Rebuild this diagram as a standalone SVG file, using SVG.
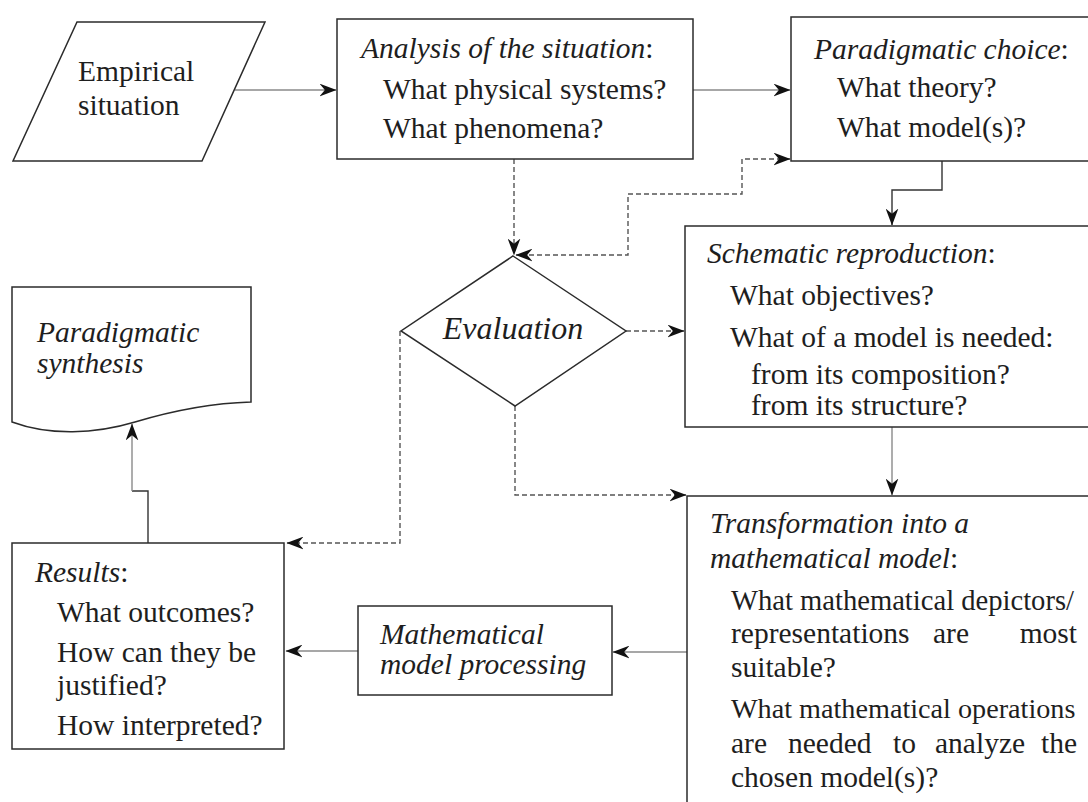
<svg xmlns="http://www.w3.org/2000/svg" width="1088" height="802" viewBox="0 0 1088 802" font-family="'Liberation Serif', 'Times New Roman', serif">
  <defs>
    <style>
      .box { fill: #fff; stroke: #2b2b2b; stroke-width: 1.5; }
      .t { font-size: 29.5px; fill: #1e1e1e; }
      .i { font-style: italic; }
      .line { fill: none; stroke: #8a8a8a; stroke-width: 1.4; }
      .dark { fill: none; stroke: #333; stroke-width: 1.4; }
      .dash { fill: none; stroke: #555; stroke-width: 1.4; stroke-dasharray: 5 3; }
    </style>
    <marker id="arr" viewBox="0 0 16 12" refX="15.5" refY="6" markerWidth="17" markerHeight="13" orient="auto-start-reverse" markerUnits="userSpaceOnUse">
      <path d="M0,0 L16,6 L0,12 L5,6 Z" fill="#111"/>
    </marker>
  </defs>

  <rect width="1088" height="802" fill="#fff"/>

  <!-- connectors -->
  <g id="connectors">
    <path class="line" d="M235,90 H336" marker-end="url(#arr)"/>
    <path class="line" d="M693,90 H790" marker-end="url(#arr)"/>
    <path class="dark" d="M942,161 V190 H892 V225" marker-end="url(#arr)"/>
    <path class="line" d="M892,427 V495" marker-end="url(#arr)"/>
    <path class="line" d="M687,652 H613" marker-end="url(#arr)"/>
    <path class="line" d="M358,651 H286" marker-end="url(#arr)"/>
    <path class="dark" d="M148,543 V491 H132"/>
    <path class="line" d="M132,491 V424" marker-end="url(#arr)"/>
    <path class="dash" d="M514,159 V255" marker-end="url(#arr)"/>
    <path class="dash" d="M790,159 H742 V194 H628 V255 H516" marker-start="url(#arr)" marker-end="url(#arr)"/>
    <path class="dash" d="M626,331 H684" marker-end="url(#arr)"/>
    <path class="dash" d="M515,406 V495 H686" marker-end="url(#arr)"/>
    <path class="dash" d="M400,331 V543 H287" marker-end="url(#arr)"/>
  </g>

  <!-- Empirical situation (input) -->
  <g id="empirical">
    <polygon class="box" points="77,22 265,22 202,161 13,161"/>
    <text class="t" x="78" y="81">Empirical</text>
    <text class="t" x="78" y="115">situation</text>
  </g>

  <!-- Analysis of the situation -->
  <g id="analysis">
    <rect class="box" x="337" y="19" width="356" height="140"/>
    <text class="t" x="361" y="58"><tspan class="i">Analysis of the situation</tspan>:</text>
    <text class="t" x="383" y="99">What physical systems?</text>
    <text class="t" x="383" y="138">What phenomena?</text>
  </g>

  <!-- Paradigmatic choice -->
  <g id="paradigmatic-choice">
    <rect class="box" x="791" y="17" width="310" height="144"/>
    <text class="t" x="814" y="59"><tspan class="i">Paradigmatic choice</tspan>:</text>
    <text class="t" x="837" y="97">What theory?</text>
    <text class="t" x="837" y="137">What model(s)?</text>
  </g>

  <!-- Evaluation (decision) -->
  <g id="evaluation">
    <polygon class="box" points="513,256 626,331 515,406 401,331"/>
    <text class="t i" x="513" y="339" text-anchor="middle" style="font-size:32px">Evaluation</text>
  </g>

  <!-- Schematic reproduction -->
  <g id="schematic">
    <rect class="box" x="685" y="226" width="416" height="201"/>
    <text class="t" x="707" y="263"><tspan class="i">Schematic reproduction</tspan>:</text>
    <text class="t" x="730" y="305">What objectives?</text>
    <text class="t" x="730" y="347">What of a model is needed:</text>
    <text class="t" x="751" y="384">from its composition?</text>
    <text class="t" x="751" y="415">from its structure?</text>
  </g>

  <!-- Paradigmatic synthesis (document) -->
  <g id="synthesis">
    <path class="box" d="M12,287 H251 V402 C215,403 175,410 135,422 C95,434 50,436 12,422 Z"/>
    <text class="t i" x="37" y="342">Paradigmatic</text>
    <text class="t i" x="37" y="373">synthesis</text>
  </g>

  <!-- Transformation into a mathematical model -->
  <g id="transformation">
    <rect class="box" x="687" y="496" width="414" height="330"/>
    <text class="t i" x="710" y="533">Transformation into a</text>
    <text class="t" x="710" y="568"><tspan class="i">mathematical model</tspan>:</text>
    <text class="t" x="731" y="610" style="font-size:28.6px">What mathematical depictors/</text>
    <text class="t" x="731" y="643">representations</text>
    <text class="t" x="933" y="643">are</text>
    <text class="t" x="1077" y="643" text-anchor="end">most</text>
    <text class="t" x="731" y="677">suitable?</text>
    <text class="t" x="731" y="718" style="font-size:28.2px">What mathematical operations</text>
    <text class="t" x="731" y="753">are</text>
    <text class="t" x="788" y="753">needed</text>
    <text class="t" x="893" y="753">to</text>
    <text class="t" x="935" y="753">analyze</text>
    <text class="t" x="1077" y="753" text-anchor="end">the</text>
    <text class="t" x="731" y="787">chosen model(s)?</text>
  </g>

  <!-- Mathematical model processing -->
  <g id="processing">
    <rect class="box" x="358" y="606" width="254" height="89"/>
    <text class="t i" x="380" y="644">Mathematical</text>
    <text class="t i" x="380" y="674">model processing</text>
  </g>

  <!-- Results -->
  <g id="results">
    <rect class="box" x="12" y="543" width="272" height="206"/>
    <text class="t" x="35" y="582"><tspan class="i">Results</tspan>:</text>
    <text class="t" x="57" y="622">What outcomes?</text>
    <text class="t" x="57" y="662">How can they be</text>
    <text class="t" x="57" y="695">justified?</text>
    <text class="t" x="57" y="735">How interpreted?</text>
  </g>
</svg>
